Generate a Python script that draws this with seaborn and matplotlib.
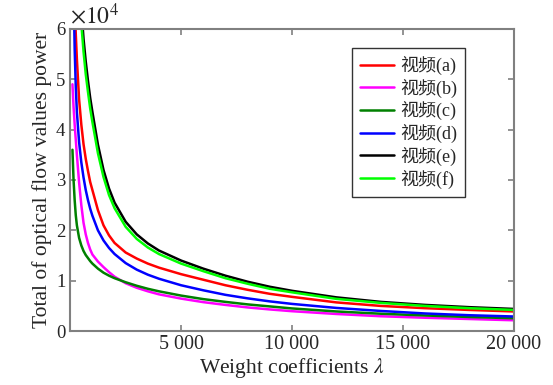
import numpy as np
import pandas as pd
import seaborn as sns
import matplotlib
matplotlib.use("Agg")
import matplotlib.pyplot as plt

# weight coefficient lambda (x) and optical flow power totals in units of 1e4
lam = [100, 150, 200, 250, 300, 400, 500, 600, 700, 800, 900, 1000, 1250, 1500, 1750, 2000,
       2500, 3000, 3500, 4000, 5000, 6000, 7000, 8000, 9000, 10000, 12000, 14000, 16000,
       18000, 20000]

video_a = [8.3, 7.4, 6.5, 5.9, 5.4, 4.6, 4.1, 3.71, 3.42, 3.18, 2.96, 2.8, 2.4, 2.1, 1.9, 1.75,
           1.56, 1.44, 1.34, 1.26, 1.13, 1.02, 0.91, 0.82, 0.74, 0.68, 0.57, 0.50, 0.455,
           0.42, 0.39]
video_b = [4.9, 4.45, 4.1, 3.8, 3.5, 2.95, 2.5, 2.15, 1.92, 1.75, 1.62, 1.52, 1.38, 1.27, 1.17,
           1.08, 0.95, 0.86, 0.79, 0.73, 0.645, 0.575, 0.52, 0.47, 0.43, 0.395, 0.34, 0.295,
           0.265, 0.24, 0.215]
video_c = [3.6, 3.0, 2.6, 2.3, 2.1, 1.85, 1.7, 1.59, 1.51, 1.45, 1.39, 1.34, 1.24, 1.16, 1.1,
           1.05, 0.97, 0.9, 0.84, 0.79, 0.705, 0.635, 0.58, 0.53, 0.49, 0.45, 0.39, 0.345,
           0.31, 0.28, 0.255]
video_d = [8.5, 6.8, 5.6, 4.85, 4.35, 3.75, 3.35, 3.05, 2.8, 2.6, 2.43, 2.29, 2.0, 1.8, 1.65,
           1.53, 1.35, 1.22, 1.12, 1.04, 0.91, 0.81, 0.72, 0.65, 0.59, 0.54, 0.46, 0.40,
           0.35, 0.315, 0.29]
video_e = [13.0, 11.5, 10.2, 9.2, 8.4, 7.2, 6.4, 5.8, 5.35, 4.97, 4.63, 4.35, 3.7, 3.2, 2.83,
           2.55, 2.17, 1.92, 1.74, 1.60, 1.40, 1.24, 1.10, 0.98, 0.88, 0.80, 0.67, 0.58,
           0.52, 0.475, 0.44]
video_f = [12.4, 11.0, 9.75, 8.8, 8.0, 6.9, 6.1, 5.55, 5.1, 4.75, 4.42, 4.15, 3.53, 3.06, 2.7,
           2.44, 2.07, 1.83, 1.66, 1.53, 1.34, 1.19, 1.05, 0.94, 0.84, 0.77, 0.64, 0.56,
           0.50, 0.455, 0.42]

labels = ["视频(a)", "视频(b)", "视频(c)", "视频(d)", "视频(e)", "视频(f)"]
colors = ["#ff0000", "#ff00ff", "#008000", "#0000ff", "#000000", "#00ff00"]

frames = []
for name, vals in zip(labels, [video_a, video_b, video_c, video_d, video_e, video_f]):
    frames.append(pd.DataFrame({"lam": lam, "power": vals, "video": name}))
df = pd.concat(frames, ignore_index=True)

sns.set_style("ticks")
plt.rcParams["font.family"] = ["Liberation Serif", "Noto Sans CJK SC"]
plt.rcParams["mathtext.fontset"] = "stix"

fig, ax = plt.subplots(figsize=(5.53, 3.85), dpi=100)
fig.subplots_adjust(left=0.127, right=0.929, top=0.925, bottom=0.140)

sns.lineplot(data=df, x="lam", y="power", hue="video", palette=dict(zip(labels, colors)),
             linewidth=1.8, ax=ax, legend=False, estimator=None)

ax.set_xlim(0, 20000)
ax.set_ylim(0, 6)
ax.set_xticks([5000, 10000, 15000, 20000])
ax.set_xticklabels(["5 000", "10 000", "15 000", "20 000"])
ax.set_yticks(range(7))
ax.tick_params(direction="in", top=True, right=True, color="#808080",
               length=4, width=1.2)
ax.tick_params(axis="x", labelsize=14.5, pad=3)
ax.tick_params(axis="y", labelsize=13.5)
for sp in ax.spines.values():
    sp.set_color("#808080")
    sp.set_linewidth(1.5)

ax.set_xlabel(r"Weight coefficients $\lambda$", fontsize=15.5, labelpad=1)
ax.set_ylabel("Total of optical flow values power", fontsize=15.5, labelpad=3)
ax.text(0.0, 1.0, r"$\times10^{4}$", transform=ax.transAxes, fontsize=17,
        ha="left", va="bottom")

handles = [plt.Line2D([], [], color=c, linewidth=1.8) for c in colors]
leg = ax.legend(handles, labels, loc="upper right", bbox_to_anchor=(0.89, 0.937),
                borderaxespad=0, fontsize=13, frameon=True, fancybox=False,
                handlelength=1.9, handletextpad=0.3, labelspacing=0.2, borderpad=0.45)
leg.get_frame().set_edgecolor("black")
leg.get_frame().set_linewidth(1.0)

fig.savefig("out.png", dpi=100)
